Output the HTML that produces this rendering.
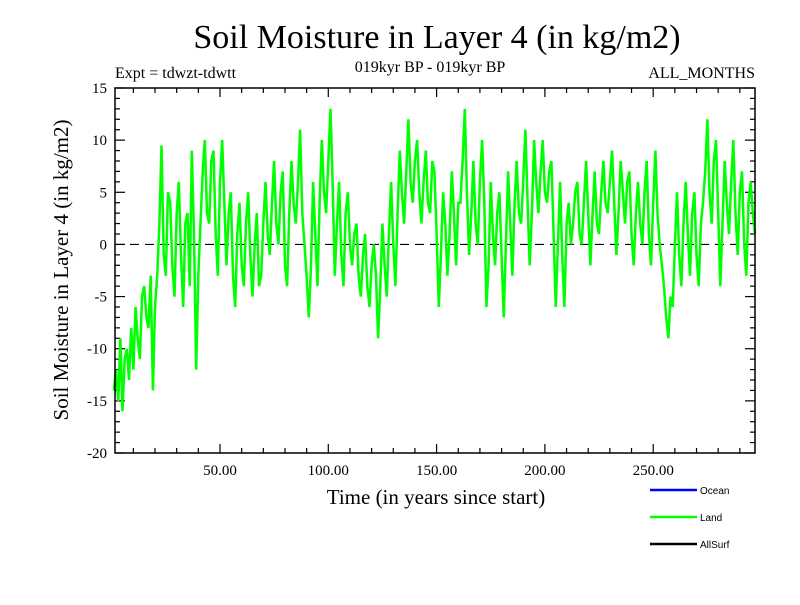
<!DOCTYPE html>
<html><head><meta charset="utf-8"><style>
body{margin:0;background:#fff}
svg text{font-family:"Liberation Serif",serif}
</style></head><body>
<svg id="c" width="800" height="600">
<text x="437" y="48" font-size="34" text-anchor="middle">Soil Moisture in Layer 4 (in kg/m2)</text>
<text x="115" y="78" font-size="16">Expt = tdwzt-tdwtt</text>
<text x="430" y="72" font-size="16" text-anchor="middle">019kyr BP - 019kyr BP</text>
<text x="755" y="78" font-size="16" text-anchor="end">ALL_MONTHS</text>
<text transform="translate(68,270) rotate(-90)" font-size="21" text-anchor="middle">Soil Moisture in Layer 4 (in kg/m2)</text>
<text x="436" y="504" font-size="21" text-anchor="middle">Time (in years since start)</text>
<g id="axes"></g>
<g id="series"></g>
<rect x="115" y="88" width="640" height="365" fill="none" stroke="#000" stroke-width="1.5"/>
<g>
<line x1="650" y1="490" x2="697" y2="490" stroke="#0000ff" stroke-width="2.5"/>
<text x="700" y="494" font-size="10" style="font-family:'Liberation Sans',sans-serif">Ocean</text>
<line x1="650" y1="517" x2="697" y2="517" stroke="#00ff00" stroke-width="2.5"/>
<text x="700" y="521" font-size="10" style="font-family:'Liberation Sans',sans-serif">Land</text>
<line x1="650" y1="544" x2="697" y2="544" stroke="#000" stroke-width="2.5"/>
<text x="700" y="548" font-size="10" style="font-family:'Liberation Sans',sans-serif">AllSurf</text>
</g>
</svg>
<script>
const yTicks=[15,10,5,0,-5,-10,-15,-20];
const xTicks=[50,100,150,200,250];
const xTickLabels=["50.00","100.00","150.00","200.00","250.00"];
const startYear=1, yearStep=1;
const landValues=[
-14,-12,-15,-9,-16,-11,-10,-13,-8,-12,
-6,-9,-11,-5,-4,-7,-8,-3,-14,-6,
-3,2,9.5,-1,-3,5,4,-2,-5,3,
6,-1,-6,2,3,-4,9,1,-12,-3,
2,7,10,3,2,8,9,1,-3,6,
10,4,-2,3,5,-3,-6,1,4,-2,
-4,2,5,-1,-5,0,3,-4,-3,2,
6,1,-1,4,8,2,0,5,7,-2,
-4,3,8,4,2,6,11,3,0,-3,
-7,-2,6,1,-4,4,10,5,3,8,
13,6,-3,2,6,-1,-4,3,5,0,
-2,1,2,-3,-5,-1,1,-4,-6,-2,
0,-3,-9,-4,2,-2,-5,1,6,0,
-4,3,9,5,2,7,12,6,4,8,
10,5,2,6,9,4,3,8,7,1,
-6,-1,5,2,-3,1,7,3,-2,4,
4,8,13,5,-1,3,8,2,0,6,
10,4,-6,-2,6,1,-2,3,5,-1,
-7,0,7,2,-3,4,8,3,2,6,
11,4,-2,3,10,6,3,7,10,5,
4,7,8,1,-6,0,6,-1,-6,2,
4,0,2,5,6,1,0,4,8,3,
-2,3,7,2,1,5,8,4,3,6,
9,4,-1,3,8,5,2,6,7,1,
-2,3,6,2,0,5,8,1,-2,4,
9,3,0,-2,-4,-7,-9,-5,-6,0,
5,-1,-4,2,6,1,-3,3,5,-1,
-4,2,4,7,12,5,2,8,10,3,
-4,2,8,4,1,6,10,3,-1,5,
7,0,-3,4,6,3,1];
const NS="http://www.w3.org/2000/svg";
const X0=115,X1=755,Y0=88,Y1=453;
const xs=v=>111.7+v*2.166;
const ys=v=>Y0+(15-v)*(Y1-Y0)/35;
const ax=document.getElementById('axes');
function mk(t,a,p){const e=document.createElementNS(NS,t);for(const k in a)e.setAttribute(k,a[k]);p.appendChild(e);return e;}
for(let v=-20;v<=15;v++){
  const L=v%5===0?10:5;
  const l1=mk('line',{x1:X0,x2:X0+L,y1:ys(v),y2:ys(v),stroke:'#000','stroke-width':1.2},ax);
  
  
  const l2=mk('line',{x1:X1-L,x2:X1,y1:ys(v),y2:ys(v),stroke:'#000','stroke-width':1.2},ax);
  
  
}
yTicks.forEach(v=>{
  const t=mk('text',{x:X0-8,y:ys(v)+5,'font-size':15,'text-anchor':'end'},ax);
  t.textContent=v;
  
  
});
for(let v=10;v<=290;v+=10){
  const L=v%50===0?9:5;
  const b=mk('line',{x1:xs(v),x2:xs(v),y1:Y1,y2:Y1-L,stroke:'#000','stroke-width':1.2},ax);
  
  
  const t=mk('line',{x1:xs(v),x2:xs(v),y1:Y0,y2:Y0+L,stroke:'#000','stroke-width':1.2},ax);
  
  
}
xTicks.forEach((v,i)=>{
  const t=mk('text',{x:xs(v),y:Y1+22,'font-size':15,'text-anchor':'middle'},ax);
  t.textContent=xTickLabels[i];
  
  
});
const zl=mk('line',{x1:X0,x2:X1,y1:ys(0),y2:ys(0),stroke:'#000','stroke-width':1.2,'stroke-dasharray':'9,6'},ax);


const pts=landValues.map((v,i)=>xs(startYear+i*yearStep).toFixed(1)+','+ys(v).toFixed(1)).join(' ');
const pl=mk('polyline',{points:pts,fill:'none',stroke:'#00ff00','stroke-width':2.5,'stroke-linejoin':'miter'},document.getElementById('series'));


</script>
</body></html>
